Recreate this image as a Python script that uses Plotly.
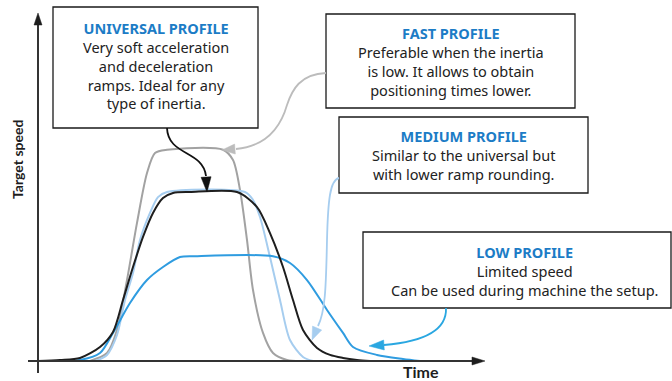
import math
import plotly.graph_objects as go

W, H = 672, 381

# ---------------- data (time in arbitrary units, speed in % of universal plateau) -------------
fast_t = [13, 17.25, 19.75, 22.25, 24.75, 27.25, 29.25, 32.25, 46.25, 48.75, 50.5, 52.25, 53.75, 56.25, 58.75, 62.25, 65.5]
fast_v = [0, 4.7, 18.3, 47.9, 81.7, 111.2, 123.1, 125, 125, 118.9, 101.2, 71.6, 42.0, 16.6, 4.7, 0.6, 0]

universal_t = [0, 5.5, 10.5, 15.5, 18.75, 21.25, 23.75, 26.25, 28.75, 31.25, 33.75, 38, 49.75, 54.75, 58,
               61.25, 63.75, 66.25, 69.75, 73, 76.25, 79.75, 83]
universal_v = [0, 0.6, 1.8, 8.3, 17.2, 36.1, 55.6, 73.4, 87.6, 96.4, 99.4, 100, 100, 91.1, 75.7,
               55.6, 36.1, 18.3, 7.7, 3.6, 1.8, 0.6, 0]

medium_t = [14.25, 17.25, 19.75, 21.75, 23.75, 25.5, 28, 30, 32.25, 51.75, 53.75, 55.5, 58, 60.5, 63, 66.25, 68.75]
medium_v = [0, 3.6, 15.4, 36.1, 52.1, 71.6, 87.6, 97.0, 100, 100, 95.3, 85.2, 61.5, 36.1, 12.4, 2.4, 0]

low_t = [3, 10.5, 15.5, 18.75, 23, 27.25, 31.25, 35.5, 39.25, 58.75, 63, 67.25, 72.25, 76.25, 78.75,
         84.75, 91.25, 95.5]
low_v = [0, 0.6, 4.7, 16.6, 34.3, 47.9, 55.6, 61.5, 62, 62, 58.0, 47.9, 30.2, 16.6, 8.3,
         3.6, 1.2, 0]

x_label = "Time"
y_label = "Target speed"

boxes = [
    {"title": "UNIVERSAL PROFILE",
     "lines": ["Very soft acceleration", "and deceleration", "ramps. Ideal for any", "type of inertia."]},
    {"title": "FAST PROFILE",
     "lines": ["Preferable when the inertia", "is low. It allows to obtain", "positioning times lower."]},
    {"title": "MEDIUM PROFILE",
     "lines": ["Similar to the universal but", "with lower ramp rounding."]},
    {"title": "LOW PROFILE",
     "lines": ["Limited speed", "Can be used during machine the setup."]},
]

# ---------------- styling / layout ----------------
C_FAST = "#a2a2a2"
C_UNI = "#1e1e1e"
C_MED = "#a6cdef"
C_LOW = "#2f9ce0"
C_TITLE = "#1c7cc6"
C_TEXT = "#222222"
FONT = "Noto Sans"

# placement of boxes (pixel frame) : x0, y0, x1, y1, text centre x, text block centre y
box_geo = [
    (53, 7, 258, 128, 155.5, 65),
    (326, 14, 575, 108, 451, 62),
    (339, 117, 588, 193, 463, 155),
    (363, 232, 671, 308, 524, 270.5),
]

# data frame: t = (px-38)/4 ; v = (361-py)/1.69
X0PX, XS = 38, 4.0
Y0PX, YS = 361, 1.69
xr = [-X0PX / XS, (W - X0PX) / XS]
yr = [-(H - Y0PX) / YS, Y0PX / YS]


def P(px, py):
    return px / W, 1 - py / H


def path_str(cmds):
    out = []
    for c in cmds:
        if isinstance(c, str):
            out.append(c)
        else:
            x, y = P(*c)
            out.append(f"{x:.5f},{y:.5f}")
    return " ".join(out)


def head(tip, frm, length, width, color):
    dx, dy = tip[0] - frm[0], tip[1] - frm[1]
    n = math.hypot(dx, dy)
    dx, dy = dx / n, dy / n
    bx, by = tip[0] - dx * length, tip[1] - dy * length
    nx, ny = -dy, dx
    a = (bx + nx * width / 2, by + ny * width / 2)
    b = (bx - nx * width / 2, by - ny * width / 2)
    return dict(type="path", xref="paper", yref="paper",
                path=path_str(["M", tip, "L", a, "L", b, "Z"]),
                fillcolor=color, line=dict(color=color, width=0.5), layer="above")


fig = go.Figure()
for t, v, c, nm in [(fast_t, fast_v, C_FAST, "Fast"), (medium_t, medium_v, C_MED, "Medium"),
                    (low_t, low_v, C_LOW, "Low"), (universal_t, universal_v, C_UNI, "Universal")]:
    fig.add_trace(go.Scatter(x=t, y=v, mode="lines", name=nm,
                             line=dict(color=c, width=2, shape="spline", smoothing=0.8),
                             hoverinfo="skip"))

shapes = []
# axes
shapes.append(dict(type="line", xref="paper", yref="paper",
                   x0=P(38, 373)[0], y0=P(38, 373)[1], x1=P(38, 22)[0], y1=P(38, 22)[1],
                   line=dict(color="#1e1e1e", width=1.8)))
shapes.append(head((38, 13), (38, 30), 12, 8, "#1e1e1e"))
shapes.append(dict(type="line", xref="paper", yref="paper",
                   x0=P(28, 361)[0], y0=P(28, 361)[1], x1=P(474, 361)[0], y1=P(474, 361)[1],
                   line=dict(color="#333333", width=1.8)))
shapes.append(head((485, 361), (470, 361), 13, 8, "#1e1e1e"))

# boxes
for (x0, y0, x1, y1, cx, cy) in box_geo:
    a, b = P(x0, y0), P(x1, y1)
    shapes.append(dict(type="rect", xref="paper", yref="paper", x0=a[0], y0=b[1], x1=b[0], y1=a[1],
                       line=dict(color="#1a1a1a", width=1.3), fillcolor="white", layer="above"))

# connectors
conn_w = 1.8
shapes.append(dict(type="path", xref="paper", yref="paper", layer="above",
                   path=path_str(["M", (167, 128), "C", (168, 156), (203, 150), (206, 176)]),
                   line=dict(color="#111111", width=conn_w)))
shapes.append(head((207, 192), (206, 176), 15, 10, "#111111"))

shapes.append(dict(type="path", xref="paper", yref="paper", layer="above",
                   path=path_str(["M", (326, 73), "C", (300, 74), (292, 90), (287, 105),
                                  "C", (281, 126), (268, 146), (236, 149)]),
                   line=dict(color="#bcbcbc", width=conn_w)))
shapes.append(head((222, 150), (236, 149), 13, 10, "#bcbcbc"))

shapes.append(dict(type="path", xref="paper", yref="paper", layer="above",
                   path=path_str(["M", (339, 178), "C", (330, 180), (328, 200), (327, 240),
                                  "C", (326, 290), (325, 312), (318, 326)]),
                   line=dict(color=C_MED, width=conn_w)))
shapes.append(head((312, 340), (318, 326), 13, 10, C_MED))

shapes.append(dict(type="path", xref="paper", yref="paper", layer="above",
                   path=path_str(["M", (446, 308), "C", (447, 332), (420, 342), (384, 345)]),
                   line=dict(color="#2aa7e1", width=conn_w)))
shapes.append(head((369, 346), (384, 345), 15, 10, "#2aa7e1"))

annotations = []
for box, (x0, y0, x1, y1, cx, cy) in zip(boxes, box_geo):
    x, y = P(cx, cy)
    txt = f"<b><span style='color:{C_TITLE}'>{box['title']}</span></b><br>" + "<br>".join(box["lines"])
    annotations.append(dict(xref="paper", yref="paper", x=x, y=y, xanchor="center", yanchor="middle",
                            align="center", text=txt, showarrow=False, borderpad=0,
                            font=dict(family=FONT, size=14.5, color=C_TEXT)))

x, y = P(421, 371)
annotations.append(dict(xref="paper", yref="paper", x=x, y=y, xanchor="center", yanchor="middle",
                        text=f"<b>{x_label}</b>", showarrow=False,
                        font=dict(family="Lato", size=16, color="#1e1e1e")))
x, y = P(17, 160)
annotations.append(dict(xref="paper", yref="paper", x=x, y=y, xanchor="center", yanchor="middle",
                        text=f"<b>{y_label}</b>", showarrow=False, textangle=-90,
                        font=dict(family="Lato", size=14, color="#1e1e1e")))

fig.update_layout(
    width=W, height=H, margin=dict(l=0, r=0, t=0, b=0),
    paper_bgcolor="white", plot_bgcolor="white", showlegend=False,
    xaxis=dict(range=xr, visible=False, fixedrange=True),
    yaxis=dict(range=yr, visible=False, fixedrange=True),
    shapes=shapes, annotations=annotations,
)

fig.write_html("out.html", config={"staticPlot": True},
               post_script="document.body.style.margin='0';document.body.style.overflow='hidden';")
